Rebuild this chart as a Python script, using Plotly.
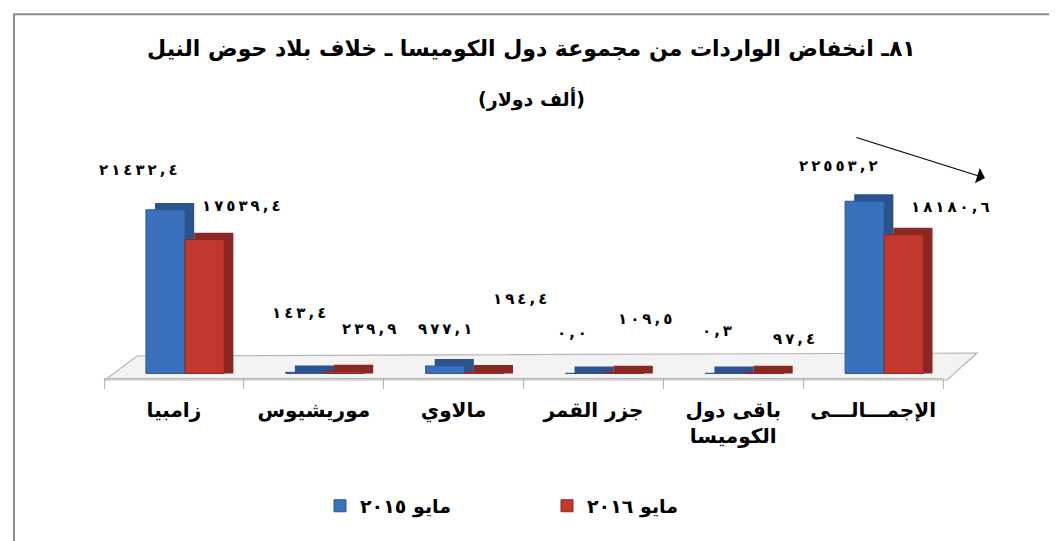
import plotly.graph_objects as go

categories = ["زامبيا", "موريشيوس", "مالاوي", "جزر القمر", "باقى دول<br>الكوميسا", "الإجمـــالـــى"]
may_2015 = [21432.4, 143.4, 977.1, 0.0, 0.3, 22553.2]
may_2016 = [17539.4, 239.9, 194.4, 109.5, 97.4, 18180.6]
series_names = ["مايو ٢٠١٥", "مايو ٢٠١٦"]
title_line1 = "٨١ـ انخفاض الواردات من مجموعة دول الكوميسا ـ خلاف بلاد حوض النيل"
title_line2 = "(ألف دولار)"

# label placement (pixels): x offset from category centre, y offset above bar top
off_2015 = [(-35, 40), (-15, 59), (-9, 37), (-21, 40), (-16, 42), (-35, 35)]
off_2016 = [(68, 34), (55, 43), (66, 73), (52, 54), (61, 34), (77, 28)]

AR_DIGITS = "٠١٢٣٤٥٦٧٨٩"


def ar_num(v):
    s = f"{v:.1f}".replace(".", ",")
    s = "".join(AR_DIGITS[int(c)] if c.isdigit() else c for c in s)
    return "\u202d" + "\u2009".join(s) + "\u202c"


FONT = "DejaVu Sans"
BLUE = "#3b70bd"
BLUE_SIDE = "#2b548f"
RED = "#c3372f"
RED_SIDE = "#8a2722"
DEPTH = 900      # visual depth of the pseudo-3D bars (in axis units)
BAR_W = 0.28
SIDE_SHIFT = 0.065

fig = go.Figure()
for vals, name, col, side_col, off in ((may_2015, series_names[0], BLUE, BLUE_SIDE, -0.2),
                                       (may_2016, series_names[1], RED, RED_SIDE, 0.08)):
    fig.add_trace(go.Bar(x=categories, y=[v + DEPTH for v in vals], width=BAR_W, offset=off + SIDE_SHIFT,
                         marker=dict(color=side_col, line=dict(width=0)),
                         showlegend=False, hoverinfo="skip"))
    fig.add_trace(go.Bar(x=categories, y=vals, name="<b>" + name + "</b>", width=BAR_W, offset=off,
                         marker=dict(color=col, line=dict(color=side_col, width=1))))

annotations = []
for vals, offs in ((may_2015, off_2015), (may_2016, off_2016)):
    for c, v, (dx, dy) in zip(categories, vals, offs):
        annotations.append(dict(x=c, y=v, xref="x", yref="y", text="<b>" + ar_num(v) + "</b>",
                                showarrow=False, xshift=dx, yshift=dy,
                                xanchor="center", yanchor="middle",
                                font=dict(family=FONT, size=15, color="black")))

# title
annotations.append(dict(x=0.51, y=1.456, xref="paper", yref="paper", text="<b>" + title_line1 + "</b>",
                        xanchor="center", yanchor="middle",
                        showarrow=False, font=dict(family=FONT, size=22, color="black")))
annotations.append(dict(x=0.51, y=1.2345, xref="paper", yref="paper", text="<b>" + title_line2 + "</b>",
                        xanchor="center", yanchor="middle",
                        showarrow=False, font=dict(family=FONT, size=19, color="black")))
# trend arrow
annotations.append(dict(x=1.050, y=0.885, xref="paper", yref="paper", text="", showarrow=True,
                        ax=-130, ay=-41, arrowhead=1, arrowsize=2.2, arrowwidth=1.2, arrowcolor="black"))

shapes = [
    # floor
    dict(type="path", xref="paper", yref="paper", layer="below",
         path="M 0.0012 -0.0088 L 0.0393 0.0973 L 1.0405 0.1106 L 1.0048 -0.0088 Z",
         fillcolor="#f3f3f3", line=dict(color="#b5b5b5", width=1.2)),
    # outer frame
    dict(type="rect", xref="paper", yref="paper", x0=-0.1073, x1=1.2, y0=-0.8, y1=1.61,
         fillcolor="rgba(0,0,0,0)", line=dict(color="#8c8c8c", width=2)),
]

fig.update_layout(
    width=1057, height=541,
    margin=dict(l=96, r=122, t=144, b=171, autoexpand=False),
    paper_bgcolor="white", plot_bgcolor="rgba(0,0,0,0)",
    barmode="overlay",
    showlegend=True,
    legend=dict(orientation="h", x=0.528, xanchor="center", y=-0.566, yanchor="middle",
                entrywidth=182, entrywidthmode="pixels",
                font=dict(family=FONT, size=19, color="black"), traceorder="normal"),
    annotations=annotations,
    shapes=shapes,
    xaxis=dict(showline=True, linecolor="#b5b5b5", linewidth=1.2, ticks="outside", tickson="boundaries",
               ticklen=10, tickcolor="#b5b5b5", showgrid=False, automargin=False,
               range=[-0.5, 5.5],
               ticktext=["<b>" + c + "</b>" for c in categories], tickvals=categories,
               tickfont=dict(family=FONT, size=20, color="black"), ticklabelstandoff=14),
    yaxis=dict(range=[-600, 29000], visible=False, showgrid=False, automargin=False),
)

fig.write_html("out.html")
